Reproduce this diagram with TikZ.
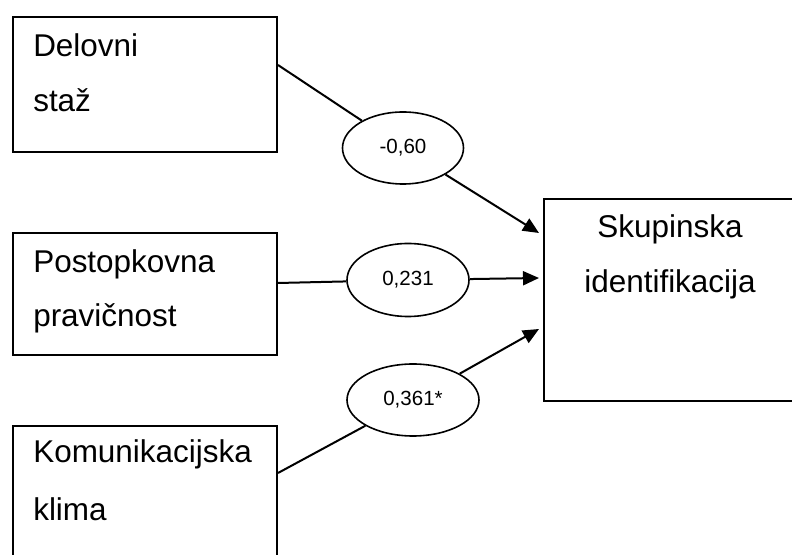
\documentclass[tikz,border=0pt]{standalone}
\usepackage{fontspec}
\setmainfont{Liberation Sans}
\usetikzlibrary{shapes.geometric,arrows.meta,calc}
\tikzset{
  box/.style={draw,line width=1.5pt,rectangle,inner sep=0pt,anchor=north west},
  oval/.style={draw,line width=1.2pt,ellipse,inner sep=0pt,font=\fontsize{15.4}{18}\selectfont},
  lbl/.style={inner sep=0pt,font=\fontsize{23.6}{28}\selectfont},
  link/.style={line width=1.5pt},
  arr/.style={link,-{Triangle[length=12pt,width=10.5pt]}}
}
\begin{document}
\begin{tikzpicture}[x=0.75pt,y=-0.75pt]
	\def\px{0.75pt} % 1 enota = 1 piksel
	\useasboundingbox (0,0) rectangle (792,555);
	\fill[white] (0,0) rectangle (792,555);
	\clip (0,0) rectangle (792,555);
	% okvirji
	\node[box,minimum width=264*\px,minimum height=135*\px] (staz) at (12,16) {};
	\node[box,minimum width=264*\px,minimum height=122*\px] (prav) at (12,232) {};
	\node[box,minimum width=264*\px,minimum height=160*\px] (klima) at (12,425) {};
	\node[box,minimum width=260*\px,minimum height=202*\px] (skup) at (543,198) {};
	% besedila
	\node[lbl,anchor=base west] (staz1) at (33,57) {Delovni};
	\node[lbl,anchor=base west] (staz2) at (33,112) {staž};
	\node[lbl,anchor=base west] (prav1) at (33,273) {Postopkovna};
	\node[lbl,anchor=base west] (prav2) at (33,327) {pravičnost};
	\node[lbl,anchor=base west] (klima1) at (33,463) {Komunikacijska};
	\node[lbl,anchor=base west] (klima2) at (33,520) {klima};
	\node[lbl,anchor=base] (skup1) at (670,238) {Skupinska};
	\node[lbl,anchor=base] (skup2) at (670,293) {identifikacija};
	% koeficienti
	\node[oval,minimum width=121*\px,minimum height=72*\px] (k1) at (403,148) {-0,60};
	\node[oval,minimum width=122*\px,minimum height=73*\px] (k2) at (408,280) {0,231};
	\node[oval,minimum width=132*\px,minimum height=72*\px] (k3) at (413,400) {0,361*};
	% povezave
	\draw[link] ($(staz.north east)+(0,49)$) -- (k1);
	\draw[arr] (k1) -- ($(skup.north west)+(-4,35)$);
	\draw[link] ($(prav.north east)+(0,51)$) -- (k2);
	\draw[arr] (k2) -- ($(skup.north west)+(-4,80)$);
	\draw[link] ($(klima.north east)+(0,48)$) -- (k3);
	\draw[arr] (k3) -- ($(skup.north west)+(-4,131)$);
\end{tikzpicture}
\end{document}
